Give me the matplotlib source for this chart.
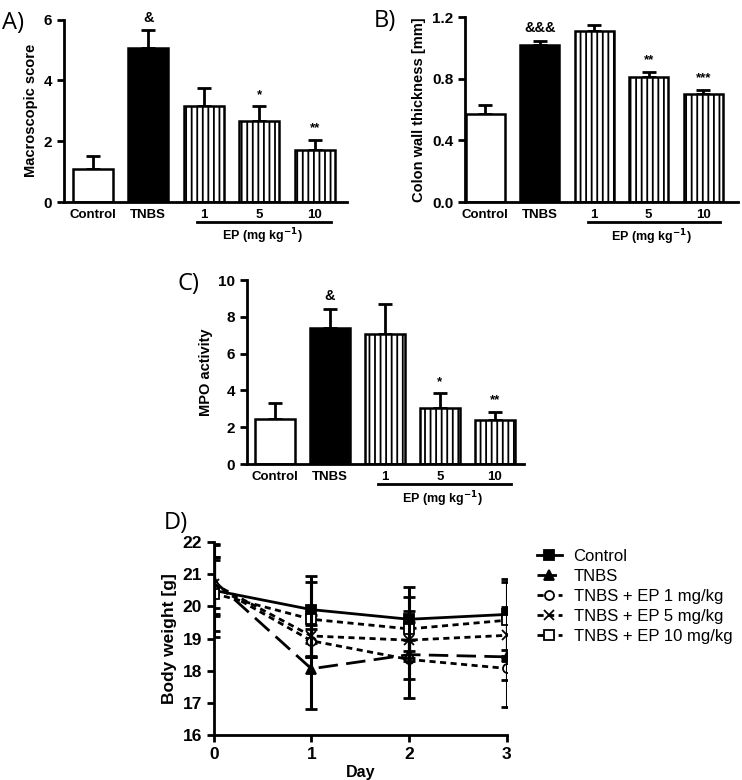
import matplotlib.pyplot as plt
import numpy as np
from matplotlib.lines import Line2D

plt.rcParams['font.family'] = ['Liberation Sans', 'DejaVu Sans']
plt.rcParams['hatch.linewidth'] = 1.3

groups = ['Control', 'TNBS', '1', '5', '10']

# A) macroscopic score
macro_mean = [1.1, 5.05, 3.15, 2.65, 1.72]
macro_err = [0.42, 0.6, 0.6, 0.5, 0.33]
macro_sig = ['', '&', '', '*', '**']

# B) colon wall thickness
wall_mean = [0.57, 1.02, 1.11, 0.81, 0.70]
wall_err = [0.06, 0.025, 0.04, 0.035, 0.03]
wall_sig = ['', '&&&', '', '**', '***']

# C) MPO activity
mpo_mean = [2.45, 7.4, 7.05, 3.05, 2.4]
mpo_err = [0.85, 1.05, 1.65, 0.8, 0.45]
mpo_sig = ['', '&', '', '*', '**']

# D) body weight
days = [0, 1, 2, 3]
bw_labels = ['Control', 'TNBS', 'TNBS + EP 1 mg/kg', 'TNBS + EP 5 mg/kg', 'TNBS + EP 10 mg/kg']
bw_mean = [
    [20.5, 19.9, 19.6, 19.75],
    [20.8, 18.06, 18.5, 18.43],
    [20.65, 18.93, 18.35, 18.07],
    [20.7, 19.08, 18.95, 19.1],
    [20.4, 19.6, 19.3, 19.57],
]
bw_err = [
    [1.45, 1.05, 1.0, 1.1],
    [1.1, 1.25, 1.35, 1.55],
    [0.9, 0.5, 0.6, 0.35],
    [0.75, 0.65, 0.55, 0.65],
    [1.15, 1.15, 1.0, 1.2],
]


fig = plt.figure(figsize=(7.42, 7.80), dpi=100)


def bar_panel(rect, xlim, mean, err, sig, ylim, yticks, ylabel, letter, letter_pos, fmt):
    ax = fig.add_axes(rect)
    x = np.arange(len(groups))
    faces = ['white', 'black', 'white', 'white', 'white']
    hatches = ['', '', '|||', '|||', '|||']
    for i in range(len(groups)):
        ax.bar(x[i], mean[i], width=0.72, color=faces[i], edgecolor='black',
               linewidth=1.8, hatch=hatches[i], zorder=2)
    ax.errorbar(x, mean, yerr=[np.zeros(len(x)), err], fmt='none', ecolor='black',
                elinewidth=2, capsize=5, capthick=2, zorder=1)
    span = ylim[1] - ylim[0]
    for i in range(len(groups)):
        if sig[i]:
            ax.text(x[i], mean[i] + err[i] + span * 0.03, sig[i], ha='center', va='bottom',
                    fontsize=10.5 if '&' in sig[i] else 9.5, fontweight='bold')
    ax.set_xlim(*xlim)
    ax.set_ylim(*ylim)
    ax.set_yticks(yticks)
    ax.set_yticklabels([fmt.format(v) for v in yticks], fontsize=11, fontweight='bold')
    ax.set_xticks(x)
    ax.set_xticklabels(groups, fontsize=9.5, fontweight='bold')
    ax.tick_params(axis='x', length=0, pad=5)
    ax.tick_params(axis='y', width=2, length=5)
    for s in ['top', 'right']:
        ax.spines[s].set_visible(False)
    for s in ['left', 'bottom']:
        ax.spines[s].set_linewidth(2)
    ax.set_ylabel(ylabel, fontsize=10.5, fontweight='bold', labelpad=4)
    # dose bracket
    ax.add_line(Line2D([1.88, 4.3], [-0.11, -0.11], transform=ax.get_xaxis_transform(),
                       color='black', lw=2, clip_on=False))
    ax.text(3.05, -0.135, 'EP (mg kg$^{\\mathbf{-1}}$)', transform=ax.get_xaxis_transform(),
            ha='center', va='top', fontsize=9, fontweight='bold')
    ax.text(letter_pos[0], letter_pos[1], letter, transform=ax.transAxes, fontsize=17,
            family='Open Sans', ha='left', va='center')
    return ax


axA = bar_panel([0.0863, 0.741, 0.381, 0.234], (-0.52, 4.58), macro_mean, macro_err, macro_sig,
                (0, 6), [0, 2, 4, 6], 'Macroscopic score', 'A)', (-0.22, 0.98), '{:g}')
axB = bar_panel([0.6267, 0.741, 0.368, 0.237], (-0.37, 4.64), wall_mean, wall_err, wall_sig,
                (0, 1.2), [0, 0.4, 0.8, 1.2], 'Colon wall thickness [mm]', 'B)', (-0.335, 0.98),
                '{:.1f}')
axC = bar_panel([0.333, 0.405, 0.373, 0.236], (-0.51, 4.53), mpo_mean, mpo_err, mpo_sig,
                (0, 10), [0, 2, 4, 6, 8, 10], 'MPO activity', 'C)', (-0.25, 0.98), '{:g}')

# D) body weight line chart
axD = fig.add_axes([0.288, 0.0577, 0.395, 0.2473])
styles = [
    dict(marker='s', mfc='black', dashes=None),
    dict(marker='^', mfc='black', dashes=(7, 3)),
    dict(marker='o', mfc='white', dashes=(2.2, 1.6)),
    dict(marker='x', mfc='white', dashes=(2.2, 1.6)),
    dict(marker='s', mfc='white', dashes=(2.2, 1.6)),
]
for i in range(len(bw_labels)):
    st = styles[i]
    kw = dict(color='black', lw=2, marker=st['marker'], ms=6.5, mfc=st['mfc'], mec='black',
              mew=1.3, label=bw_labels[i])
    if st['dashes'] is not None:
        kw['ls'] = '--'
        kw['dashes'] = st['dashes']
    axD.plot(days, bw_mean[i], **kw)
    axD.errorbar(days, bw_mean[i], yerr=bw_err[i], fmt='none', ecolor='black', elinewidth=2.2,
                 capsize=4, capthick=2)
axD.set_xlim(0, 3)
axD.set_ylim(16, 22)
axD.set_xticks(days)
axD.set_yticks(range(16, 23))
axD.tick_params(width=2, length=5, labelsize=12.5)
for lab in axD.get_xticklabels() + axD.get_yticklabels():
    lab.set_fontweight('bold')
for s in ['top', 'right']:
    axD.spines[s].set_visible(False)
for s in ['left', 'bottom']:
    axD.spines[s].set_linewidth(2)
axD.set_xlabel('Day', fontsize=11.5, fontweight='bold', labelpad=2)
axD.set_ylabel('Body weight [g]', fontsize=12.5, fontweight='bold', labelpad=4)
axD.text(-0.17, 1.1, 'D)', transform=axD.transAxes, fontsize=17, family='Open Sans',
         ha='left', va='center')
axD.legend(loc='upper left', bbox_to_anchor=(1.08, 1.0), frameon=False, fontsize=12,
           handlelength=1.5, handletextpad=0.7, labelspacing=0.3, borderaxespad=0)

fig.savefig('out.png', dpi=100)
